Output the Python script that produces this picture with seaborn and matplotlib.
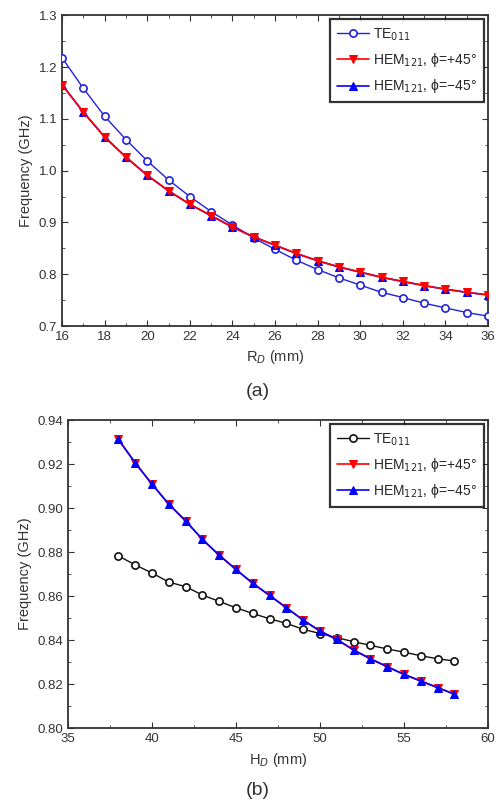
import numpy as np
import pandas as pd
import matplotlib
matplotlib.use("Agg")
import matplotlib.pyplot as plt
import seaborn as sns
from matplotlib.ticker import MultipleLocator

# panel (a): frequency vs R_D
r_d = list(range(16, 37))
te_a = [1.218, 1.159, 1.105, 1.060, 1.019, 0.982, 0.950, 0.921, 0.895, 0.870, 0.848,
        0.827, 0.809, 0.793, 0.779, 0.765, 0.755, 0.744, 0.735, 0.726, 0.719]
hem_a = [1.166, 1.113, 1.065, 1.026, 0.991, 0.961, 0.935, 0.913, 0.891, 0.872, 0.856,
         0.840, 0.826, 0.814, 0.804, 0.794, 0.786, 0.778, 0.771, 0.765, 0.760]

# panel (b): frequency vs H_D
h_d = list(range(38, 59))
te_b = [0.8783, 0.8742, 0.8705, 0.8664, 0.8643, 0.8605, 0.8576, 0.8547, 0.8521, 0.8497, 0.8476,
        0.8449, 0.8430, 0.8411, 0.8393, 0.8376, 0.8360, 0.8345, 0.8329, 0.8315, 0.8305]
hem_b = [0.9312, 0.9206, 0.9109, 0.9018, 0.8942, 0.8858, 0.8786, 0.8721, 0.8658, 0.8603, 0.8547,
         0.8491, 0.8441, 0.8403, 0.8355, 0.8315, 0.8279, 0.8244, 0.8214, 0.8184, 0.8154]

labels = ["TE$_{011}$", "HEM$_{121}$, ϕ=+45°", "HEM$_{121}$, ϕ=−45°"]

sns.set_style("ticks")
plt.rcParams["font.family"] = ["Liberation Sans", "DejaVu Sans"]

fig = plt.figure(figsize=(4.96, 8.01), dpi=100)
ax1 = fig.add_axes([0.125, 0.593, 0.859, 0.388])
ax2 = fig.add_axes([0.137, 0.091, 0.847, 0.3845])


def draw(ax, x, te, hem, te_color, red_top):
    df = pd.DataFrame({"x": x, "te": te, "hem": hem})
    sns.lineplot(data=df, x="x", y="te", ax=ax, color=te_color, marker="o", markersize=5.2,
                 markerfacecolor="white", markeredgecolor=te_color, markeredgewidth=1.2,
                 lw=1, label=labels[0], zorder=3)
    sns.lineplot(data=df, x="x", y="hem", ax=ax, color="#ff0000", marker="v", markersize=6,
                 markeredgecolor="#ff0000", lw=1.2, label=labels[1], zorder=5 if red_top else 4)
    sns.lineplot(data=df, x="x", y="hem", ax=ax, color="#0000ff", marker="^", markersize=6,
                 markeredgecolor="#0000ff", lw=1.2, label=labels[2], zorder=4 if red_top else 5)
    for s in ax.spines.values():
        s.set_linewidth(1.3)
        s.set_color("#333333")
    ax.tick_params(which="both", direction="in", top=True, right=True, labelsize=9.5,
                   colors="#333333")
    ax.tick_params(which="major", length=4)
    ax.tick_params(which="minor", length=2)
    ax.set_ylabel("Frequency (GHz)", fontsize=10.5, color="#333333")
    leg = ax.legend(loc="upper right", fontsize=10, frameon=True, fancybox=False,
                    edgecolor="black", handlelength=2.3, borderpad=0.5, labelspacing=0.6,
                    handletextpad=0.3, borderaxespad=0.3)
    leg.get_frame().set_linewidth(1.6)


draw(ax1, r_d, te_a, hem_a, "#2222dd", True)
ax1.set_xlim(16, 36)
ax1.set_ylim(0.7, 1.3)
ax1.xaxis.set_major_locator(MultipleLocator(2))
ax1.xaxis.set_minor_locator(MultipleLocator(1))
ax1.yaxis.set_major_locator(MultipleLocator(0.1))
ax1.yaxis.set_minor_locator(MultipleLocator(0.05))
ax1.yaxis.set_major_formatter(matplotlib.ticker.FormatStrFormatter("%.1f"))
ax1.set_xlabel("R$_{D}$ (mm)", fontsize=10.5, color="#333333")

draw(ax2, h_d, te_b, hem_b, "#111111", False)
ax2.set_xlim(35, 60)
ax2.set_ylim(0.80, 0.94)
ax2.xaxis.set_major_locator(MultipleLocator(5))
ax2.xaxis.set_minor_locator(MultipleLocator(2.5))
ax2.yaxis.set_major_locator(MultipleLocator(0.02))
ax2.yaxis.set_minor_locator(MultipleLocator(0.01))
ax2.yaxis.set_major_formatter(matplotlib.ticker.FormatStrFormatter("%.2f"))
ax2.set_xlabel("H$_{D}$ (mm)", fontsize=10.5, color="#333333")

fig.text(0.52, 0.511, "(a)", ha="center", va="center", fontsize=14, color="#333333")
fig.text(0.52, 0.013, "(b)", ha="center", va="center", fontsize=14, color="#333333")

fig.savefig("out.png", dpi=100)
